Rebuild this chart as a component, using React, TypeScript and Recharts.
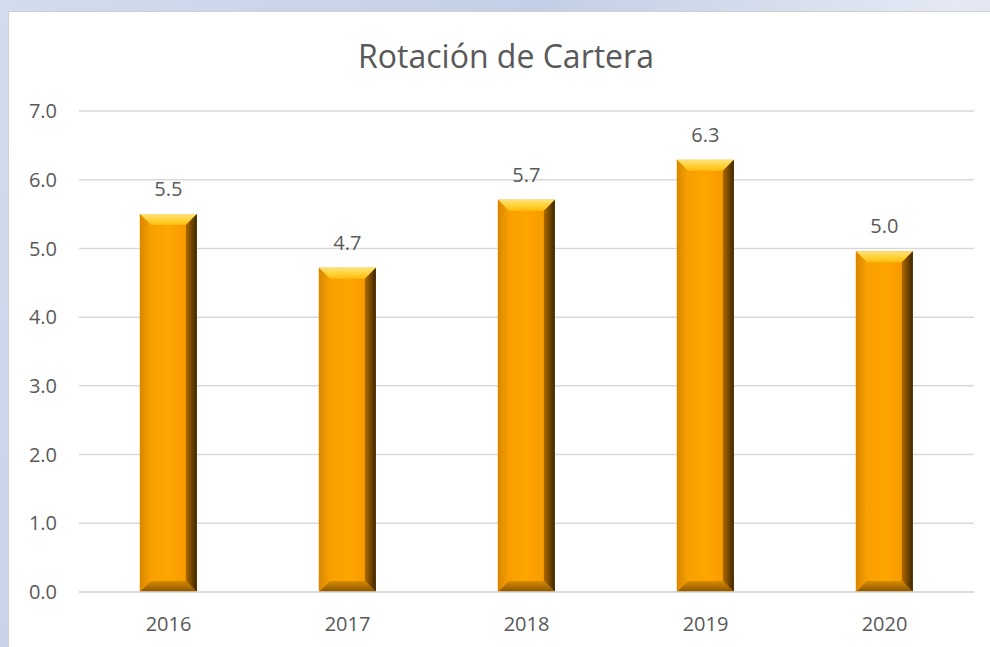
import { Bar, BarChart, CartesianGrid, LabelList, XAxis, YAxis } from "recharts";

const years = ["2016", "2017", "2018", "2019", "2020"];
const rotation = [5.5, 4.72, 5.71, 6.29, 4.96];
const yTicks = [0, 1, 2, 3, 4, 5, 6, 7];

const data = years.map((year, i) => ({ year, value: rotation[i] }));

// beveled bar like the Excel "bevel" effect
function BevelBar(props: any) {
  const { x, y, width, height } = props;
  if (!height || height <= 0) return null;
  const b = Math.min(11, width / 4);
  const r = x + width;
  const bt = y + height;
  return (
    <g>
      <rect x={x} y={y} width={width} height={height} fill="url(#face)" />
      <polygon points={`${x},${y} ${r},${y} ${r - b},${y + b} ${x + b},${y + b}`} fill="url(#topBevel)" />
      <polygon points={`${x},${y} ${x + b},${y + b} ${x + b},${bt - b} ${x},${bt}`} fill="url(#leftBevel)" />
      <polygon points={`${r},${y} ${r},${bt} ${r - b},${bt - b} ${r - b},${y + b}`} fill="url(#rightBevel)" />
      <polygon points={`${x},${bt} ${x + b},${bt - b} ${r - b},${bt - b} ${r},${bt}`} fill="url(#bottomBevel)" />
    </g>
  );
}

const tickStyle = { fontSize: 20, fill: "#595959", fontFamily: "'Open Sans', sans-serif" };

export default function App() {
  return (
    <div
      style={{
        position: "absolute",
        left: 0,
        top: 0,
        width: 990,
        height: 647,
        background: "linear-gradient(120deg, #d3dcee 0%, #c3cfe6 40%, #e4e9f3 70%, #cfd8ea 100%)",
      }}
    >
      <div
        style={{
          position: "absolute",
          left: 8,
          top: 11,
          width: 982,
          height: 636,
          background: "#ffffff",
          borderLeft: "1px solid #d0d0d0",
          borderTop: "1px solid #d0d0d0",
        }}
      >
        <div
          style={{
            position: "absolute",
            left: 0,
            top: 22,
            width: 994,
            textAlign: "center",
            fontFamily: "'Open Sans', sans-serif",
            fontSize: 32,
            color: "#595959",
          }}
        >
          Rotación de Cartera
        </div>
        <BarChart
          width={982}
          height={636}
          data={data}
          margin={{ top: 99, right: 17, bottom: 4, left: 0 }}
          barCategoryGap="34%"
        >
          <defs>
            <linearGradient id="face" x1="0" y1="0" x2="1" y2="0">
              <stop offset="0" stopColor="#f59a00" />
              <stop offset="0.5" stopColor="#ffa500" />
              <stop offset="1" stopColor="#f29500" />
            </linearGradient>
            <linearGradient id="topBevel" x1="0" y1="0" x2="0" y2="1">
              <stop offset="0" stopColor="#ffe27a" />
              <stop offset="0.6" stopColor="#ffd030" />
              <stop offset="1" stopColor="#ffbb10" />
            </linearGradient>
            <linearGradient id="leftBevel" x1="0" y1="0" x2="1" y2="0">
              <stop offset="0" stopColor="#d98600" />
              <stop offset="1" stopColor="#f7a000" />
            </linearGradient>
            <linearGradient id="rightBevel" x1="0" y1="0" x2="1" y2="0">
              <stop offset="0" stopColor="#b06a00" />
              <stop offset="1" stopColor="#3d2600" />
            </linearGradient>
            <linearGradient id="bottomBevel" x1="0" y1="0" x2="0" y2="1">
              <stop offset="0" stopColor="#d58a00" />
              <stop offset="1" stopColor="#8a5500" />
            </linearGradient>
          </defs>
          <CartesianGrid vertical={false} stroke="#d9d9d9" strokeWidth={1.5} />
          <XAxis
            dataKey="year"
            tick={tickStyle}
            tickLine={false}
            axisLine={{ stroke: "#d9d9d9", strokeWidth: 1.5 }}
            tickSize={0}
            tickMargin={25}
            height={52}
          />
          <YAxis
            domain={[0, 7]}
            ticks={yTicks}
            tickFormatter={(v: number) => v.toFixed(1)}
            tick={tickStyle}
            tickLine={false}
            axisLine={false}
            tickSize={0}
            tickMargin={22}
            width={70}
          />
          <Bar dataKey="value" shape={<BevelBar />} isAnimationActive={false}>
            <LabelList
              dataKey="value"
              position="top"
              offset={18}
              formatter={(v: number) => v.toFixed(1)}
              style={tickStyle}
            />
          </Bar>
        </BarChart>
      </div>
    </div>
  );
}
